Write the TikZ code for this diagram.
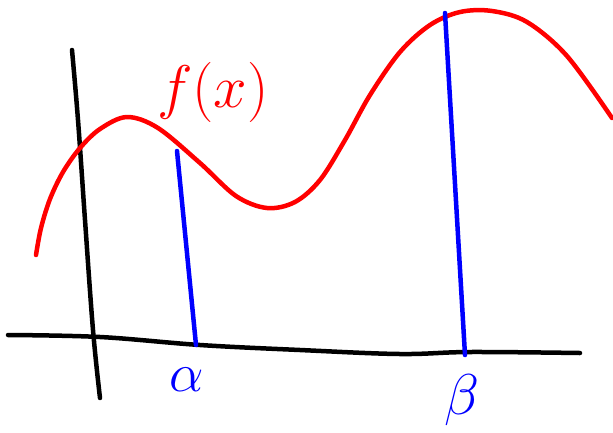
\documentclass[tikz,border=0pt]{standalone}
\begin{document}
\begin{tikzpicture}[x=1pt,y=-1pt,
  stroke/.style={line width=4.5pt,line cap=round,line join=round},
  axisline/.style={stroke,black},
  funcline/.style={stroke,red},
  boundline/.style={stroke,blue},
  lbl/.style={inner sep=0pt,font=\Huge,scale=2.2}]
\useasboundingbox (0,0) rectangle (613,432);
% axes
\draw[axisline] plot[smooth,tension=0.6] coordinates {(72,50) (78,120) (85,220) (93,330) (100,398)};
\draw[axisline] plot[smooth,tension=0.6] coordinates {(8,335) (100,337) (200,345) (300,350) (400,354) (470,352) (580,353)};
% function curve
\draw[funcline] plot[smooth,tension=0.55] coordinates {(36,255) (41,228) (50,199) (63,172) (80,148) (100,129) (127,117) (158,128) (200,163) (236,196) (267,208) (295,202) (320,180) (345,140) (370,95) (400,52) (430,25) (460,12) (492,11) (527,22) (567,56) (612,118)};
% bounds
\draw[boundline] (177,151) -- (196,345);
\draw[boundline] (445,13) -- (465,355);
% labels
\node[lbl,red,scale=1.1] (fx) at (213,92) {$f(x)$};
\node[lbl,blue] (alpha) at (187,380) {$\alpha$};
\node[lbl,blue,scale=1.05] (beta) at (462,400) {$\beta$};
\end{tikzpicture}
\end{document}
